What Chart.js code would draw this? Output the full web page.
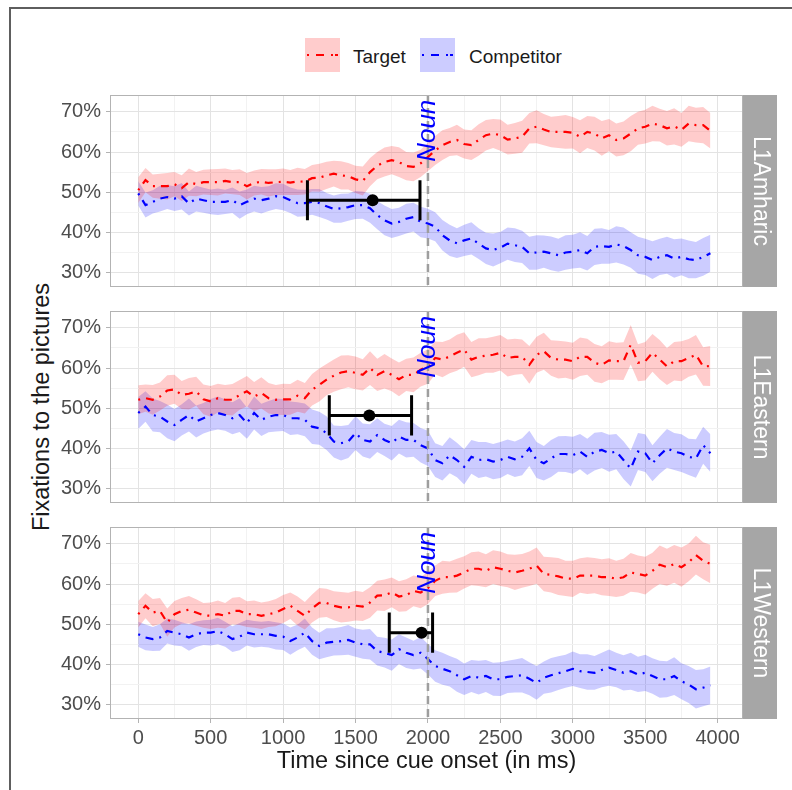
<!DOCTYPE html>
<html>
<head>
<meta charset="utf-8">
<script src="https://cdn.jsdelivr.net/npm/chart.js@4.4.0/dist/chart.umd.min.js"></script>
<style>
  html, body { margin: 0; padding: 0; background: #fff; }
  #page { position: relative; width: 792px; height: 790px; overflow: hidden; font-family: 'Liberation Sans', Arial, sans-serif; }
  #frame { position: absolute; left: 9px; top: 7px; width: 900px; height: 900px; border-left: 2px solid #5e5e5e; border-top: 2px solid #5e5e5e; }
  canvas { position: absolute; left: 0; }
  .key { position: absolute; top: 38px; width: 35px; height: 34px; }
  .ltext { position: absolute; top: 47px; font-size: 19px; line-height: 19px; color: #1a1a1a; white-space: nowrap; }
  #ytitle { position: absolute; left: 41px; top: 407px; transform: translate(-50%, -50%) rotate(-90deg); font-size: 23.5px; color: #1a1a1a; white-space: nowrap; }
</style>
</head>
<body>
<div id="page">
  <div id="frame"></div>
  <div class="key" style="left:305px;background:rgba(255,0,0,0.2)">
    <svg width="35" height="34"><line x1="2" y1="17" x2="33" y2="17" stroke="#ff0000" stroke-width="2.2" stroke-dasharray="2 7 8 7 2"/></svg>
  </div>
  <div class="ltext" style="left:353px">Target</div>
  <div class="key" style="left:420px;background:rgba(0,0,255,0.2)">
    <svg width="35" height="34"><line x1="2" y1="17" x2="33" y2="17" stroke="#0000ff" stroke-width="2.2" stroke-dasharray="2 7 8 7 2"/></svg>
  </div>
  <div class="ltext" style="left:469px">Competitor</div>
  <div id="ytitle">Fixations to the pictures</div>
  <canvas id="p1" width="792" height="212" style="top:85px"></canvas>
  <canvas id="p2" width="792" height="212" style="top:301px"></canvas>
  <canvas id="p3" width="792" height="273" style="top:517px"></canvas>
</div>
<script>
// sampling grid (ms since cue onset)
const timeMs = Array.from({ length: 80 }, (_, i) => i * 50);

const groups = ['L1Amharic', 'L1Eastern', 'L1Western'];

// mean fixation proportions (%), per group
const amharicTarget = [
  50.5, 53, 51.5, 51.5, 51.5, 52, 51, 52.5, 52, 52.5,
  52.5, 52.5, 52.8, 52.5, 52.5, 51.5, 52.3, 52.6, 52.3, 52.5,
  52.6, 52.4, 52.7, 52.6, 53.5, 53.6, 54.2, 54.6, 54.2, 54,
  53.2, 52.8, 55, 56.6, 57.5, 58, 57.5, 56.5, 56.3, 57.2,
  58.8, 60.4, 61.7, 62.5, 63, 62, 61.7, 63, 64.2, 64.6,
  64.2, 63.1, 63.4, 63.8, 65.9, 66.3, 65.6, 65, 65, 65,
  64.8, 63.8, 65, 64.6, 63.4, 64.2, 63, 63.4, 64.6, 65.9,
  66.3, 67.1, 66.7, 65.9, 66.4, 65.5, 67.1, 66.7, 66.7, 65.3
];
const amharicComp = [
  49.7, 46.8, 47.6, 48.4, 48.8, 48.4, 49, 47.2, 48.4, 48,
  47.6, 47.6, 47.6, 48, 46.8, 47.6, 48.4, 48, 48.4, 49,
  48.8, 48, 47.3, 47.3, 47.6, 47.3, 46.5, 45.8, 46, 46.3,
  46.8, 46.8, 46, 44.3, 43, 42.2, 42.6, 43.4, 43.8, 42.6,
  42.2, 41.4, 39.3, 38, 37.3, 38, 38.5, 37.2, 36, 35.6,
  36.2, 37.2, 36.8, 36.4, 34.8, 35, 35.2, 34.8, 34.3, 35,
  35.2, 35.6, 34.8, 36.4, 36.6, 36.4, 37, 36.6, 35.6, 34.3,
  33.9, 33.1, 33.9, 34.3, 33.5, 33.9, 33.3, 33.1, 33.9, 34.8
];
const easternTarget = [
  52.1, 52.5, 52.1, 52.9, 54.4, 54.7, 53.3, 53.6, 54.2, 52.2,
  51.7, 52.5, 52.1, 52.1, 53.3, 54.2, 52.9, 53.8, 52.5, 52.1,
  52.2, 52.2, 53.1, 52.5, 54.6, 55.8, 57.1, 58.1, 58.9, 59.2,
  58.8, 58.3, 60, 58.3, 59.2, 58.3, 57.2, 58.3, 58.3, 59.6,
  60.4, 62.5, 62.1, 62.9, 63.8, 64.6, 62.1, 62.8, 63.1, 63.3,
  63.8, 62.5, 62.8, 62.8, 60.8, 63.3, 64.2, 62.5, 62.1, 62.1,
  61.7, 62.8, 62.8, 61.3, 60.8, 61.9, 61.7, 61.7, 65.8, 61.3,
  61.7, 63.8, 62.1, 60.4, 61.7, 61.7, 62.5, 63.3, 60.4, 60.5
];
const easternComp = [
  48.8, 50.4, 48.3, 47.9, 46.7, 45.8, 47.1, 48.3, 46.7, 47.5,
  48.3, 48.8, 48.3, 47.5, 48.3, 46.3, 48.8, 47.1, 47.9, 48.3,
  48.3, 47.5, 47.5, 47.1, 45.4, 45, 43.8, 41.7, 41.3, 41.7,
  43.8, 42.1, 41.7, 43.3, 42.1, 41.3, 42.9, 42.1, 42.1, 40.8,
  40, 37.1, 36.3, 38.3, 37.1, 35.4, 37.9, 37.1, 37.3, 36.7,
  37.1, 37.9, 37.3, 37.9, 40, 37.1, 36.3, 37.5, 38.6, 38.6,
  38.3, 39.2, 37.9, 39.2, 39.6, 38.8, 39.2, 37.1, 35, 39.2,
  38.8, 36.3, 38.3, 40, 39.2, 38.8, 37.9, 37.5, 40.8, 38.8
];
const westernTarget = [
  52.5, 54.6, 52.9, 53.3, 50.4, 52.5, 53.3, 53.6, 52.9, 52.2,
  52.1, 52.5, 52.1, 53.3, 53.3, 52.5, 52.5, 52.1, 52.5, 52.9,
  53.8, 54.6, 53.3, 52.1, 53.9, 55.3, 55.3, 54.6, 54.2, 54.2,
  54.6, 54.4, 55.4, 57.1, 57.2, 57.9, 56.9, 57.2, 58.3, 57.9,
  59, 60.8, 61.7, 61.7, 62.1, 62.9, 63.8, 63.8, 63.3, 64.2,
  63.8, 63.3, 62.9, 63.3, 63.8, 64.6, 62.5, 62.3, 61.9, 61.4,
  61.3, 62.1, 62.1, 62.1, 61.7, 61.7, 61.3, 61.7, 62.9, 62.5,
  62.1, 63.3, 64.8, 64.2, 65, 64.2, 65.4, 67.2, 65.8, 65
];
const westernComp = [
  47.5, 46.7, 46.3, 46.7, 48.3, 47.9, 47.5, 46.7, 47.5, 47.9,
  47.9, 48.3, 47.5, 46.3, 46.9, 47.9, 47.5, 47.5, 47.5, 47.1,
  46.9, 45.8, 46.7, 47.9, 45.8, 44.6, 45.4, 45.6, 45.8, 46.1,
  45.4, 45, 45, 43.3, 42.9, 42.3, 43.8, 42.9, 42.3, 42.9,
  41.3, 39.6, 38.9, 38.3, 37.3, 36.3, 37.1, 36.7, 37.1, 36.3,
  36.3, 36.9, 37.1, 37.3, 36.4, 35.4, 36.7, 37.3, 37.8, 38.3,
  38.9, 38.3, 38.1, 37.9, 38.6, 39.2, 38.6, 37.9, 38.3, 37.5,
  37.9, 37.1, 36.3, 36.3, 37.1, 35.8, 35, 33.8, 34.2, 34.8
];

// ribbon half-widths (%)
const amharicTargetSe = [
  3.2, 3.0, 2.9, 3.1, 3.3, 3.0, 3.2, 3.4, 3.0, 3.1,
  3.2, 3.3, 3.1, 3.0, 3.2, 3.3, 3.1, 3.2, 3.4, 3.2,
  3.3, 3.1, 3.4, 3.2, 3.3, 3.5, 3.4, 3.2, 3.5, 3.3,
  3.4, 3.6, 3.5, 3.4, 3.6, 3.5, 3.7, 3.5, 3.6, 3.4,
  3.5, 3.6, 3.7, 3.5, 3.8, 3.6, 3.7, 3.9, 3.8, 3.6,
  3.9, 3.7, 3.8, 4.0, 3.8, 4.1, 3.9, 3.8, 4.0, 4.2,
  3.9, 4.1, 4.0, 4.2, 4.3, 4.0, 4.1, 4.2, 4.4, 4.1,
  4.2, 4.4, 4.1, 4.3, 4.5, 4.2, 4.4, 4.3, 4.5, 4.4
];
const amharicCompSe = [
  3.0, 3.1, 2.9, 3.2, 3.0, 3.1, 3.3, 3.0, 3.2, 3.1,
  3.1, 3.3, 3.0, 3.2, 3.4, 3.1, 3.2, 3.3, 3.1, 3.2,
  3.3, 3.2, 3.4, 3.3, 3.2, 3.5, 3.3, 3.4, 3.6, 3.4,
  3.5, 3.4, 3.6, 3.5, 3.7, 3.6, 3.5, 3.7, 3.6, 3.8,
  3.7, 3.6, 3.8, 3.9, 3.7, 3.9, 4.0, 3.8, 3.9, 4.1,
  3.9, 4.0, 4.2, 4.0, 4.1, 4.3, 4.0, 4.2, 4.1, 4.3,
  4.2, 4.4, 4.3, 4.5, 4.4, 4.2, 4.5, 4.6, 4.4, 4.6,
  4.5, 4.7, 4.5, 4.6, 4.8, 4.6, 4.7, 4.5, 4.7, 4.6
];
const easternTargetSe = [
  3.6, 3.4, 3.7, 3.5, 3.8, 3.6, 3.5, 3.9, 3.6, 3.7,
  3.8, 3.6, 3.7, 3.9, 3.7, 3.8, 3.6, 3.9, 3.8, 3.7,
  3.9, 3.8, 4.0, 3.8, 3.9, 4.1, 3.9, 4.0, 4.2, 4.0,
  4.1, 3.9, 4.2, 4.0, 4.3, 4.1, 4.2, 4.0, 4.3, 4.2,
  4.3, 4.1, 4.4, 4.2, 4.5, 4.3, 4.4, 4.6, 4.3, 4.5,
  4.4, 4.6, 4.5, 4.3, 4.7, 4.5, 4.6, 4.4, 4.7, 4.5,
  4.6, 4.8, 4.5, 4.7, 4.6, 4.8, 4.6, 4.7, 4.9, 4.6,
  4.8, 4.7, 4.9, 4.6, 4.8, 5.0, 4.7, 4.9, 4.8, 5.0
];
const easternCompSe = [
  4.0, 3.8, 4.1, 3.9, 4.2, 4.0, 3.9, 4.1, 4.0, 3.8,
  4.0, 4.1, 3.9, 4.0, 4.2, 3.9, 4.1, 4.0, 3.9, 4.1,
  4.0, 4.2, 4.0, 4.1, 4.3, 4.1, 4.2, 4.0, 4.3, 4.1,
  4.2, 4.1, 4.3, 4.2, 4.0, 4.3, 4.2, 4.4, 4.2, 4.3,
  4.4, 4.2, 4.3, 4.5, 4.3, 4.4, 4.2, 4.5, 4.3, 4.4,
  4.5, 4.3, 4.4, 4.6, 4.4, 4.5, 4.3, 4.6, 4.4, 4.5,
  4.6, 4.4, 4.5, 4.7, 4.5, 4.6, 4.4, 4.7, 4.5, 4.6,
  4.7, 4.5, 4.6, 4.8, 4.6, 4.7, 4.5, 4.8, 4.6, 4.7
];
const westernTargetSe = [
  3.3, 3.1, 3.4, 3.2, 3.5, 3.3, 3.2, 3.4, 3.3, 3.1,
  3.3, 3.4, 3.2, 3.3, 3.5, 3.2, 3.4, 3.3, 3.2, 3.4,
  3.5, 3.3, 3.6, 3.4, 3.5, 3.7, 3.5, 3.6, 3.8, 3.6,
  3.7, 3.6, 3.8, 3.7, 3.9, 3.7, 3.8, 4.0, 3.8, 3.9,
  4.0, 3.8, 4.1, 3.9, 4.2, 4.0, 4.1, 4.3, 4.1, 4.2,
  4.3, 4.1, 4.4, 4.2, 4.3, 4.5, 4.3, 4.4, 4.6, 4.4,
  4.5, 4.3, 4.6, 4.4, 4.5, 4.7, 4.5, 4.6, 4.8, 4.6,
  4.7, 4.5, 4.8, 4.6, 4.7, 4.9, 4.7, 4.8, 4.6, 4.8
];
const westernCompSe = [
  3.1, 3.2, 3.0, 3.3, 3.1, 3.2, 3.0, 3.3, 3.2, 3.1,
  3.2, 3.3, 3.1, 3.2, 3.4, 3.2, 3.3, 3.1, 3.3, 3.4,
  3.3, 3.4, 3.2, 3.5, 3.4, 3.3, 3.6, 3.4, 3.5, 3.7,
  3.5, 3.6, 3.8, 3.6, 3.7, 3.9, 3.7, 3.8, 3.6, 3.9,
  3.8, 3.9, 4.0, 3.8, 4.1, 3.9, 4.0, 4.2, 4.0, 4.1,
  4.2, 4.0, 4.1, 4.3, 4.1, 4.2, 4.0, 4.3, 4.2, 4.1,
  4.3, 4.2, 4.4, 4.2, 4.3, 4.5, 4.3, 4.4, 4.6, 4.4,
  4.5, 4.4, 4.6, 4.5, 4.7, 4.5, 4.6, 4.8, 4.6, 4.7
];

// mean noun-anticipation point with its interval (ms), per group
const errCenter = [1618, 1595, 1956];
const errLow = [1168, 1319, 1733];
const errHigh = [1945, 1887, 2032];
const errY = [48.0, 48.2, 47.9];

const nounOnset = 2000;
const nounLabelY = 65.3;

const xTicks = [0, 500, 1000, 1500, 2000, 2500, 3000, 3500, 4000];
const yTicks = [30, 40, 50, 60, 70];

const FONT = "'Liberation Sans', Arial, sans-serif";
Chart.defaults.font.family = FONT;

const toPoints = (vals) => vals.map((v, i) => ({ x: timeMs[i], y: v }));
const shift = (vals, se, sign) => vals.map((v, i) => ({ x: timeMs[i], y: v + sign * se[i] }));

const panelDecor = {
  id: 'panelDecor',
  afterDatasetsDraw(chart, args, opts) {
    const { ctx, chartArea: a, scales: { x, y } } = chart;
    ctx.save();
    // dashed onset line
    const xo = x.getPixelForValue(nounOnset);
    ctx.strokeStyle = '#9e9e9e';
    ctx.lineWidth = 2.5;
    ctx.setLineDash([8, 5]);
    ctx.beginPath();
    ctx.moveTo(xo, a.top);
    ctx.lineTo(xo, a.bottom);
    ctx.stroke();
    ctx.setLineDash([]);

    // Noun label
    ctx.save();
    ctx.translate(xo, y.getPixelForValue(nounLabelY));
    ctx.rotate(-Math.PI / 2);
    ctx.fillStyle = '#0000ff';
    ctx.font = 'italic 26px ' + FONT;
    ctx.textAlign = 'center';
    ctx.textBaseline = 'middle';
    ctx.fillText('Noun', 0, 0);
    ctx.restore();

    // error bar
    const i = opts.idx;
    const yy = y.getPixelForValue(errY[i]);
    const x0 = x.getPixelForValue(errLow[i]);
    const x1 = x.getPixelForValue(errHigh[i]);
    const capH = y.getPixelForValue(errY[i] - 5) - yy;
    ctx.strokeStyle = '#000';
    ctx.lineWidth = 3;
    ctx.beginPath();
    ctx.moveTo(x0, yy); ctx.lineTo(x1, yy);
    ctx.moveTo(x0, yy - capH); ctx.lineTo(x0, yy + capH);
    ctx.moveTo(x1, yy - capH); ctx.lineTo(x1, yy + capH);
    ctx.stroke();
    ctx.fillStyle = '#000';
    ctx.beginPath();
    ctx.arc(x.getPixelForValue(errCenter[i]), yy, 6, 0, Math.PI * 2);
    ctx.fill();

    // panel border
    ctx.strokeStyle = '#b3b3b3';
    ctx.lineWidth = 1;
    ctx.strokeRect(a.left + 0.5, a.top + 0.5, a.right - a.left - 1, a.bottom - a.top - 1);

    // facet strip
    ctx.fillStyle = '#a6a6a6';
    ctx.fillRect(a.right, a.top, 34, a.bottom - a.top);
    ctx.save();
    ctx.translate(a.right + 17, (a.top + a.bottom) / 2);
    ctx.rotate(Math.PI / 2);
    ctx.fillStyle = '#ffffff';
    ctx.font = '23px ' + FONT;
    ctx.textAlign = 'center';
    ctx.textBaseline = 'middle';
    ctx.fillText(groups[i], 0, 0);
    ctx.restore();
    ctx.restore();
  }
};

function makePanel(id, idx, target, targetSe, comp, compSe, bottom) {
  const lineStyle = { pointRadius: 0, borderWidth: 2.2, borderDash: [2, 6, 8, 6], fill: false, tension: 0 };
  const band = { pointRadius: 0, borderWidth: 0, borderColor: 'transparent', tension: 0 };
  return new Chart(document.getElementById(id), {
    type: 'line',
    data: {
      datasets: [
        { ...lineStyle, label: 'Target', data: toPoints(target), borderColor: '#ff0000' },
        { ...lineStyle, label: 'Competitor', data: toPoints(comp), borderColor: '#0000ff' },
        { ...band, data: shift(target, targetSe, 1), fill: '+1', backgroundColor: 'rgba(255,0,0,0.2)' },
        { ...band, data: shift(target, targetSe, -1), fill: false },
        { ...band, data: shift(comp, compSe, 1), fill: '+1', backgroundColor: 'rgba(0,0,255,0.2)' },
        { ...band, data: shift(comp, compSe, -1), fill: false }
      ]
    },
    options: {
      responsive: false,
      animation: false,
      devicePixelRatio: 1,
      layout: { autoPadding: false, padding: { left: 0, right: 49, top: 10, bottom: bottom ? 0 : 10 } },
      plugins: { legend: { display: false }, tooltip: { enabled: false }, panelDecor: { idx } },
      scales: {
        x: {
          type: 'linear',
          min: -195,
          max: 4175,
          border: { display: false },
          grid: {
            color: (c) => (xTicks.includes(c.tick.value) ? '#e3e3e3' : '#f2f2f2'),
            lineWidth: 1,
            drawTicks: bottom,
            tickLength: 4,
            tickColor: (c) => (xTicks.includes(c.tick.value) ? '#b3b3b3' : 'rgba(0,0,0,0)')
          },
          ticks: {
            display: bottom,
            stepSize: 250,
            includeBounds: false,
            autoSkip: false,
            maxRotation: 0,
            padding: 3,
            color: '#4d4d4d',
            font: { size: 20 },
            callback: (v) => (xTicks.includes(v) ? String(v) : '')
          },
          title: {
            display: bottom,
            text: 'Time since cue onset (in ms)',
            color: '#1a1a1a',
            font: { size: 23.5 },
            padding: { top: 0, bottom: 14 }
          },
          afterFit: (s) => {
            s.height = bottom ? 71 : 0;
            s.paddingLeft = 0; s.paddingRight = 0;
          }
        },
        y: {
          min: 26.4,
          max: 74.2,
          border: { display: false },
          grid: {
            color: (c) => (yTicks.includes(c.tick.value) ? '#e3e3e3' : '#f2f2f2'),
            lineWidth: 1,
            tickLength: 4,
            tickColor: (c) => (yTicks.includes(c.tick.value) ? '#b3b3b3' : 'rgba(0,0,0,0)')
          },
          ticks: {
            stepSize: 5,
            includeBounds: false,
            autoSkip: false,
            padding: 5,
            color: '#4d4d4d',
            font: { size: 20 },
            callback: (v) => (yTicks.includes(v) ? v + '%' : '')
          },
          afterFit: (s) => {
            s.width = 110;
            s.paddingTop = 0; s.paddingBottom = 0;
          }
        }
      }
    },
    plugins: [panelDecor]
  });
}

makePanel('p1', 0, amharicTarget, amharicTargetSe, amharicComp, amharicCompSe, false);
makePanel('p2', 1, easternTarget, easternTargetSe, easternComp, easternCompSe, false);
makePanel('p3', 2, westernTarget, westernTargetSe, westernComp, westernCompSe, true);
</script>
</body>
</html>
